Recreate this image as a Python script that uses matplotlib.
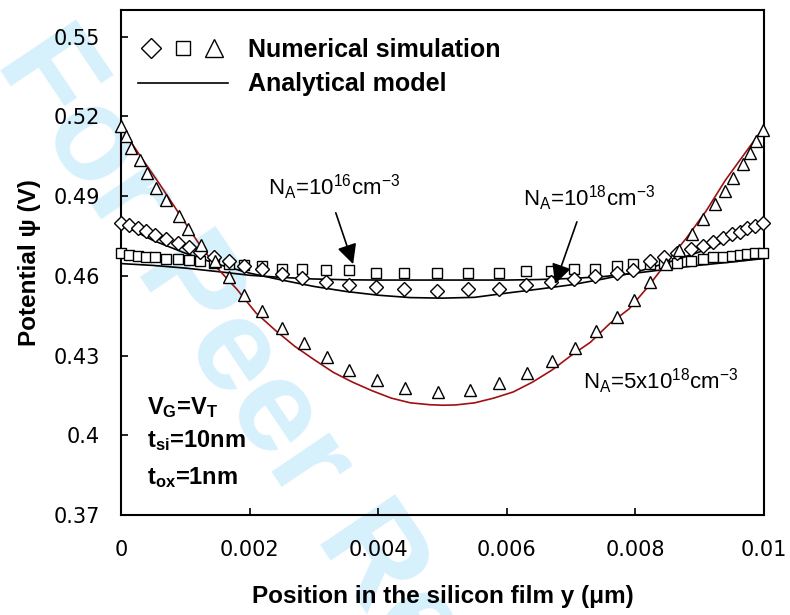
import numpy as np
import matplotlib
matplotlib.use('Agg')
import matplotlib.pyplot as plt
from matplotlib.legend_handler import HandlerTuple

plt.rcParams['font.family'] = ['Liberation Sans', 'DejaVu Sans']
plt.rcParams['mathtext.fontset'] = 'custom'
plt.rcParams['mathtext.rm'] = 'Liberation Sans'
plt.rcParams['mathtext.bf'] = 'Liberation Sans:bold'

# numerical simulation, N_A = 1e16 (squares) and 1e18 (diamonds), same mesh
x_sim = [0, 0.00012, 0.00026, 0.00039, 0.00053, 0.0007, 0.00088, 0.00105, 0.00123, 0.00145,
         0.00168, 0.00191, 0.00219, 0.0025, 0.00281, 0.00319, 0.00354, 0.00396, 0.0044, 0.00492,
         0.0054, 0.00588, 0.0063, 0.00669, 0.00705, 0.00737, 0.00771, 0.00797, 0.00822, 0.00844,
         0.00865, 0.00886, 0.00905, 0.00921, 0.00936, 0.0095, 0.00963, 0.00973, 0.00986, 0.00999]
sim_1e16 = [0.4684, 0.4679, 0.4675, 0.4671, 0.4669, 0.4665, 0.4663, 0.4659, 0.4656, 0.4649,
            0.4644, 0.4641, 0.4636, 0.4627, 0.4627, 0.4620, 0.4620, 0.4612, 0.4612, 0.4612,
            0.4612, 0.4612, 0.4619, 0.4619, 0.4625, 0.4625, 0.4638, 0.4643, 0.4646, 0.4650,
            0.4650, 0.4656, 0.4663, 0.4669, 0.4671, 0.4675, 0.4679, 0.4681, 0.4687, 0.4687]
sim_1e18 = [0.4800, 0.4790, 0.4780, 0.4768, 0.4754, 0.4740, 0.4725, 0.4710, 0.4690, 0.4669,
            0.4654, 0.4638, 0.4625, 0.4605, 0.4591, 0.4575, 0.4564, 0.4556, 0.4550, 0.4544,
            0.4550, 0.4550, 0.4565, 0.4575, 0.4588, 0.4600, 0.4612, 0.4621, 0.4656, 0.4671,
            0.4686, 0.4700, 0.4713, 0.4729, 0.4741, 0.4756, 0.4766, 0.4779, 0.4788, 0.4800]

# numerical simulation, N_A = 5e18 (triangles)
x_sim_5e18 = [0, 0.00008, 0.00016, 0.0003, 0.0004, 0.00054, 0.0007, 0.0009, 0.00104, 0.00124,
              0.00146, 0.00168, 0.00192, 0.0022, 0.00251, 0.00284, 0.0032, 0.00355, 0.00398, 0.00442,
              0.00493, 0.00542, 0.00588, 0.00631, 0.0067, 0.00706, 0.00739, 0.00771, 0.00798, 0.00823,
              0.00847, 0.00868, 0.00888, 0.00905, 0.00924, 0.00939, 0.00952, 0.00967, 0.00978, 0.00988,
              0.00998]
sim_5e18 = [0.5163, 0.5125, 0.5079, 0.5034, 0.4985, 0.4931, 0.4884, 0.4825, 0.4775, 0.4716,
            0.4656, 0.4596, 0.4528, 0.4469, 0.4404, 0.4346, 0.4296, 0.4244, 0.4209, 0.4179,
            0.4162, 0.4169, 0.4196, 0.4234, 0.4279, 0.4329, 0.4391, 0.4446, 0.4509, 0.4575,
            0.4645, 0.4696, 0.4756, 0.4813, 0.4869, 0.4919, 0.4969, 0.5019, 0.5062, 0.5106,
            0.5150]

# analytical model
x_mod = [0, 0.0005, 0.001, 0.0015, 0.002, 0.0025, 0.003, 0.0035, 0.004, 0.0045, 0.005,
         0.0055, 0.006, 0.0065, 0.007, 0.0075, 0.008, 0.0085, 0.009, 0.0095, 0.01]
mod_1e16 = [0.4646, 0.4639, 0.4629, 0.4616, 0.4602, 0.4594, 0.4588, 0.4585, 0.4584, 0.4584, 0.4584,
            0.4584, 0.4584, 0.4586, 0.4590, 0.4597, 0.4610, 0.4625, 0.4640, 0.4652, 0.4665]
mod_1e18 = [0.4794, 0.4733, 0.4685, 0.4644, 0.4610, 0.4584, 0.4560, 0.4541, 0.4527, 0.4518, 0.4516,
            0.4519, 0.4535, 0.4550, 0.4566, 0.4588, 0.4613, 0.4650, 0.4690, 0.4740, 0.4797]

x_mod_5e18 = [0, 0.0003, 0.0006, 0.0009, 0.0012, 0.0015, 0.0018, 0.0021, 0.0024, 0.0027, 0.003,
              0.0033, 0.0036, 0.0039, 0.0042, 0.0045, 0.0048, 0.005, 0.0052, 0.0055, 0.0058, 0.0061,
              0.0064, 0.0067, 0.007, 0.0073, 0.0076, 0.0079, 0.0082, 0.0085, 0.0088, 0.0091, 0.0094,
              0.0097, 0.01]
mod_5e18 = [0.5160, 0.5050, 0.4945, 0.4835, 0.4725, 0.4628, 0.4550, 0.4460, 0.4395, 0.4335, 0.4285,
            0.4237, 0.4200, 0.4168, 0.4140, 0.4122, 0.4115, 0.4113, 0.4114, 0.4122, 0.4140, 0.4163,
            0.4200, 0.4245, 0.4300, 0.4350, 0.4420, 0.4475, 0.4560, 0.4655, 0.4744, 0.4844, 0.4960,
            0.5060, 0.5160]

xticks = [0, 0.002, 0.004, 0.006, 0.008, 0.01]
xtick_labels = ['0', '0.002', '0.004', '0.006', '0.008', '0.01']
yticks = [0.37, 0.40, 0.43, 0.46, 0.49, 0.52, 0.55]
ytick_labels = ['0.37', '0.4', '0.43', '0.46', '0.49', '0.52', '0.55']

fig = plt.figure(figsize=(7.9, 6.15), dpi=100)
ax = fig.add_axes([0.1532, 0.1626, 0.8139, 0.8211])
ax.set_facecolor('none')

# watermark behind the plot
fig.text(0.03, 0.93, 'For Peer Review', fontsize=95, fontweight='bold', color='#d6f0fc',
         rotation=-56, rotation_mode='anchor', ha='left', va='center', zorder=-1)

red = '#a01010'
ax.plot(x_mod, mod_1e16, color='black', lw=1.2, zorder=2)
ax.plot(x_mod, mod_1e18, color='black', lw=1.2, zorder=2)
ax.plot(x_mod_5e18, mod_5e18, color=red, lw=1.2, zorder=2)

mk = dict(linestyle='none', markerfacecolor='white', markeredgecolor='black',
          markeredgewidth=1.0, clip_on=False, zorder=3)
h_sq, = ax.plot(x_sim, sim_1e16, marker='s', markersize=7.5, **mk)
h_di, = ax.plot(x_sim, sim_1e18, marker='D', markersize=7, **mk)
h_tr, = ax.plot(x_sim_5e18, sim_5e18, marker='^', markersize=9, **mk)
h_line, = ax.plot([], [], color='black', lw=1.2)

leg = ax.legend([(h_di, h_sq, h_tr), h_line], ['Numerical simulation', 'Analytical model'],
                handler_map={tuple: HandlerTuple(ndivide=None, pad=0.2)},
                loc='upper left', bbox_to_anchor=(0.026, 0.945), frameon=False,
                borderpad=0, borderaxespad=0,
                prop={'weight': 'bold', 'size': 18}, handlelength=3.6, handletextpad=0.8,
                labelspacing=0.42, markerscale=1.4)

ax.set_xlim(0, 0.01)
ax.set_ylim(0.37, 0.56)
ax.set_xticks(xticks)
ax.set_xticklabels(xtick_labels, family='DejaVu Sans')
ax.set_yticks(yticks)
ax.set_yticklabels(ytick_labels, family='DejaVu Sans')
ax.tick_params(direction='in', length=5, width=1.2, labelsize=15, top=False, right=False)
ax.tick_params(axis='x', pad=18)
ax.tick_params(axis='y', pad=15)
for s in ax.spines.values():
    s.set_linewidth(1.5)

ax.set_xlabel('Position in the silicon film y (μm)', fontsize=17.5, fontweight='bold', labelpad=18)
ax.set_ylabel('Potential ψ (V)', fontsize=17.5, fontweight='bold', labelpad=9)

# doping labels with arrows
arrow = dict(arrowstyle='-|>', color='black', lw=1.2, mutation_scale=30, shrinkA=0, shrinkB=0)
ax.annotate('', xy=(0.00361, 0.4644), xytext=(0.00334, 0.4837), arrowprops=arrow)
ax.annotate('', xy=(0.00675, 0.4569), xytext=(0.00709, 0.4803), arrowprops=arrow)
ax.text(0.00229, 0.4906, r'N$_\mathregular{A}$=10$^\mathregular{16}$cm$^\mathregular{-3}$',
        fontsize=16, va='baseline', ha='left')
ax.text(0.00625, 0.4863, r'N$_\mathregular{A}$=10$^\mathregular{18}$cm$^\mathregular{-3}$',
        fontsize=16, va='baseline', ha='left')
ax.text(0.00718, 0.4175, r'N$_\mathregular{A}$=5x10$^\mathregular{18}$cm$^\mathregular{-3}$',
        fontsize=16, va='baseline', ha='left')

# device parameters
ax.text(0.0004, 0.4081, r'$\mathbf{V_G}$=$\mathbf{V_T}$', fontsize=17, fontweight='bold', va='baseline')
ax.text(0.0004, 0.3956, r'$\mathbf{t_{si}}$=10nm', fontsize=17, fontweight='bold', va='baseline')
ax.text(0.0004, 0.3816, r'$\mathbf{t_{ox}}$=1nm', fontsize=17, fontweight='bold', va='baseline')

fig.savefig('out.png', dpi=100)
